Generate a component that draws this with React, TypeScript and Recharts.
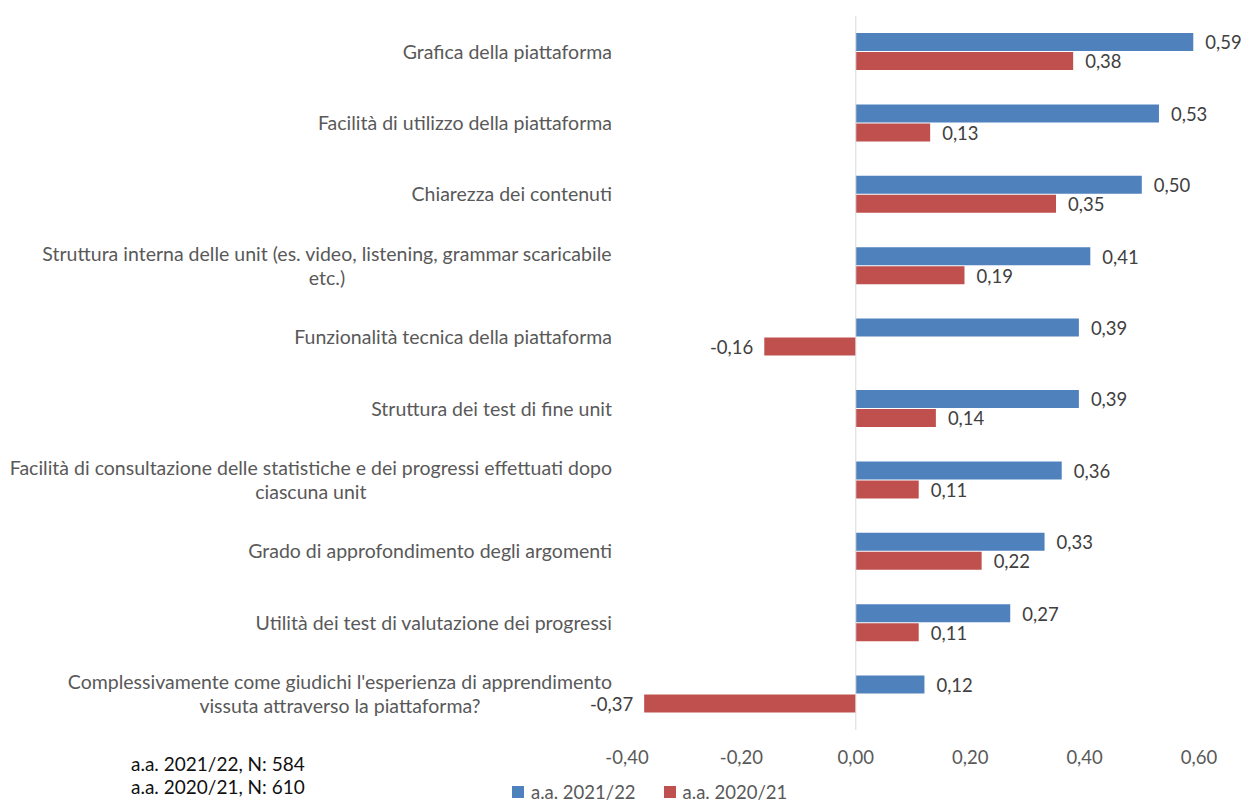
import { BarChart, Bar, XAxis, YAxis, ReferenceLine, LabelList } from 'recharts'

const categories = [
    'Grafica della piattaforma',
    'Facilità di utilizzo della piattaforma',
    'Chiarezza dei contenuti',
    'Struttura interna delle unit (es. video, listening, grammar scaricabile\netc.)',
    'Funzionalità tecnica della piattaforma',
    'Struttura dei test di fine unit',
    'Facilità di consultazione delle statistiche e dei progressi effettuati dopo\nciascuna unit',
    'Grado di approfondimento degli argomenti',
    'Utilità dei test di valutazione dei progressi',
    "Complessivamente come giudichi l'esperienza di apprendimento\nvissuta attraverso la piattaforma?",
]
const values2122 = [0.59, 0.53, 0.5, 0.41, 0.39, 0.39, 0.36, 0.33, 0.27, 0.12]
const values2021 = [0.38, 0.13, 0.35, 0.19, -0.16, 0.14, 0.11, 0.22, 0.11, -0.37]
const xTicks = [-0.4, -0.2, 0, 0.2, 0.4, 0.6]
const seriesNames = ['a.a. 2021/22', 'a.a. 2020/21']
const sampleNotes = ['a.a. 2021/22, N: 584', 'a.a. 2020/21, N: 610']

const data = categories.map((name, i) => ({ name, a: values2122[i], b: values2021[i] }))

const FONT = 'Lato, "Liberation Sans", sans-serif'
const BLUE = '#4F81BD'
const RED = '#C0504D'
const fmt = (v: number) => v.toFixed(2).replace('.', ',')

let ctx: CanvasRenderingContext2D | null = null
function measure(s: string, size: number) {
    if (!ctx) ctx = document.createElement('canvas').getContext('2d')
    if (!ctx) return s.length * size * 0.5
    ctx.font = `${size}px Lato`
    return ctx.measureText(s).width
}

function CategoryTick(props: any) {
    const { x, y, payload } = props
    const lines: string[] = String(payload.value).split('\n')
    const size = 19.5
    const right = x - 7
    if (lines.length === 1) {
        return (
            <text x={right} y={y} dy="0.35em" textAnchor="end" fontSize={size} fill="#595959" fontFamily={FONT}>
                {lines[0]}
            </text>
        )
    }
    const maxW = Math.max(...lines.map(l => measure(l, size)))
    const cx = right - maxW / 2
    const lh = 24
    const top = y - ((lines.length - 1) * lh) / 2
    return (
        <text x={cx} y={top} textAnchor="middle" fontSize={size} fill="#595959" fontFamily={FONT}>
            {lines.map((l, i) => (
                <tspan key={i} x={cx} y={top + i * lh} dy="0.35em">{l}</tspan>
            ))}
        </text>
    )
}

function ValueLabel(props: any) {
    const { x, y, width, height, value } = props
    const neg = value < 0
    const endX = x + width
    return (
        <text
            x={neg ? Math.min(x, endX) - 11 : Math.max(x, endX) + 12}
            y={y + height / 2 + 1}
            dy="0.35em"
            textAnchor={neg ? 'end' : 'start'}
            fontSize={18.5}
            fill="#404040"
            fontFamily={FONT}
        >
            {fmt(value)}
        </text>
    )
}

export default function App() {
    return (
        <div style={{ position: 'absolute', left: 0, top: 0, width: 1242, height: 805, background: '#fff', fontFamily: FONT, overflow: 'hidden' }}>
            <BarChart
                width={1242}
                height={805}
                data={data}
                layout="vertical"
                margin={{ top: 16, right: 43, bottom: 0, left: 0 }}
                barSize={18}
                barGap={1}
            >
                <XAxis
                    type="number"
                    domain={[-0.4, 0.6]}
                    ticks={xTicks}
                    tickFormatter={fmt}
                    axisLine={false}
                    tickLine={false}
                    height={75}
                    tickMargin={15}
                    tick={{ fontSize: 18.5, fill: '#595959', fontFamily: FONT }}
                />
                <YAxis
                    type="category"
                    dataKey="name"
                    width={627}
                    axisLine={false}
                    tickLine={false}
                    tick={<CategoryTick />}
                    interval={0}
                />
                <ReferenceLine x={0} stroke="#D9D9D9" strokeWidth={1} />
                <Bar dataKey="a" name={seriesNames[0]} fill={BLUE} isAnimationActive={false}>
                    <LabelList dataKey="a" content={<ValueLabel />} />
                </Bar>
                <Bar dataKey="b" name={seriesNames[1]} fill={RED} isAnimationActive={false}>
                    <LabelList dataKey="b" content={<ValueLabel />} />
                </Bar>
            </BarChart>
            <div style={{ position: 'absolute', left: 131, top: 752, fontSize: 19, lineHeight: '23px', color: '#111' }}>
                {sampleNotes.map(n => <div key={n}>{n}</div>)}
            </div>
            <div style={{ position: 'absolute', left: 512, top: 781, height: 22, display: 'flex', alignItems: 'center', fontSize: 18.5, lineHeight: '22px', color: '#595959' }}>
                {seriesNames.map((n, i) => (
                    <div key={n} style={{ display: 'flex', alignItems: 'center', marginRight: 28 }}>
                        <span style={{ width: 12, height: 12, background: i === 0 ? BLUE : RED, display: 'inline-block', marginRight: 7 }} />
                        <span>{n}</span>
                    </div>
                ))}
            </div>
        </div>
    )
}
